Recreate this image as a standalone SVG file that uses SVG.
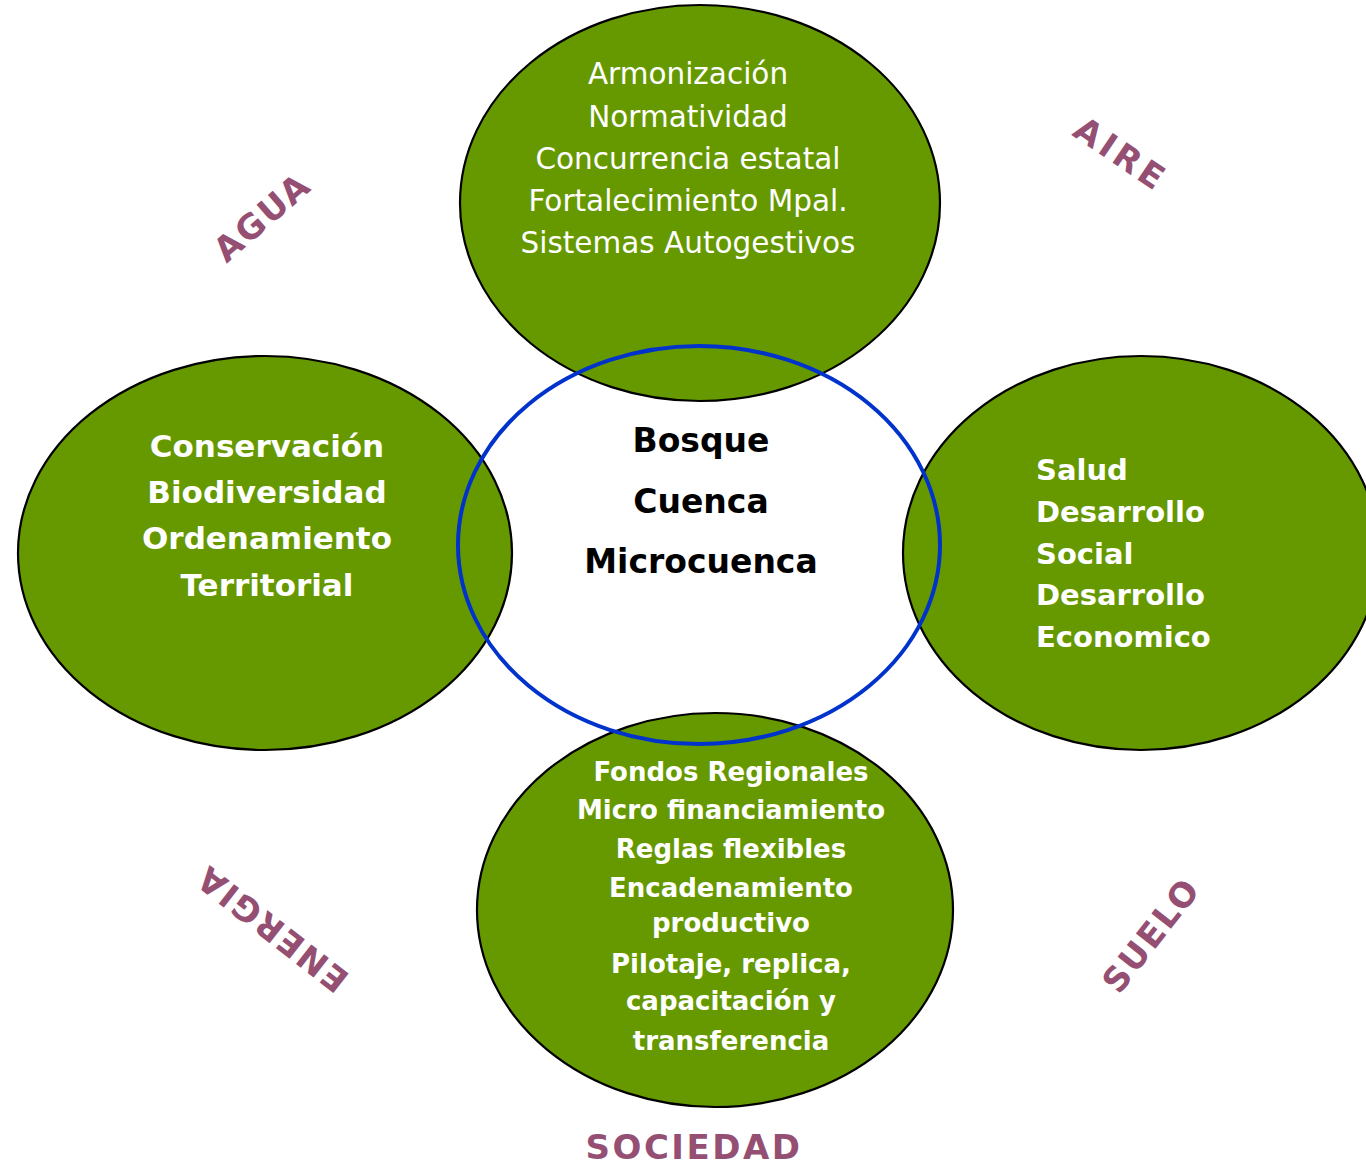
<svg xmlns="http://www.w3.org/2000/svg" width="1366" height="1169" viewBox="0 0 1366 1169">
<style>
.node{fill:#669900;stroke:#000;stroke-width:2.2}
.ring{fill:none;stroke:#0033cc;stroke-width:4}
text{font-family:"DejaVu Sans",Verdana,sans-serif}
.w{fill:#fff}
.wb{fill:#fff;font-weight:bold}
.kb{fill:#000;font-weight:bold}
.lab{fill:#944f73;font-weight:bold;font-size:34px}
</style>
<rect width="1366" height="1169" fill="#fff"/>
<g id="node-top">
<ellipse class="node" cx="700" cy="203" rx="240" ry="198"/>
<g class="w" font-size="29.5" text-anchor="middle">
<text x="688" y="84">Armonización</text>
<text x="688" y="127">Normatividad</text>
<text x="688" y="169">Concurrencia estatal</text>
<text x="688" y="211">Fortalecimiento Mpal.</text>
<text x="688" y="253">Sistemas Autogestivos</text>
</g>
</g>
<g id="node-left">
<ellipse class="node" cx="265" cy="553" rx="247" ry="197"/>
<g class="wb" font-size="31" text-anchor="middle">
<text x="267" y="457">Conservación</text>
<text x="267" y="503">Biodiversidad</text>
<text x="267" y="549">Ordenamiento</text>
<text x="267" y="596">Territorial</text>
</g>
</g>
<g id="node-right">
<ellipse class="node" cx="1141" cy="553" rx="238" ry="197"/>
<g class="wb" font-size="29">
<text x="1036" y="480">Salud</text>
<text x="1036" y="522">Desarrollo</text>
<text x="1036" y="564">Social</text>
<text x="1036" y="605">Desarrollo</text>
<text x="1036" y="647">Economico</text>
</g>
</g>
<g id="node-bottom">
<ellipse class="node" cx="715" cy="910" rx="238" ry="197"/>
<g class="wb" font-size="26" text-anchor="middle">
<text x="731" y="781">Fondos Regionales</text>
<text x="731" y="819">Micro financiamiento</text>
<text x="731" y="858">Reglas flexibles</text>
<text x="731" y="897">Encadenamiento</text>
<text x="731" y="932">productivo</text>
<text x="731" y="973">Pilotaje, replica,</text>
<text x="731" y="1010">capacitación y</text>
<text x="731" y="1050">transferencia</text>
</g>
</g>
<g id="node-center">
<ellipse class="ring" cx="699" cy="545" rx="241" ry="199"/>
<g class="kb" font-size="33" text-anchor="middle">
<text x="701" y="452">Bosque</text>
<text x="701" y="513">Cuenca</text>
<text x="701" y="573">Microcuenca</text>
</g>
</g>
<g id="labels" text-anchor="middle">
<text class="lab" transform="translate(262,217) rotate(-41)" y="12" letter-spacing="2">AGUA</text>
<text class="lab" transform="translate(1121,154) rotate(34)" y="12" letter-spacing="4">AIRE</text>
<text class="lab" transform="translate(272,929) rotate(-142)" y="12" letter-spacing="2">ENERGIA</text>
<text class="lab" transform="translate(1151,935) rotate(-52)" y="12" letter-spacing="2">SUELO</text>
<text class="lab" x="694" y="1159" font-size="35" letter-spacing="2.5">SOCIEDAD</text>
</g>
<g id="connectors"/>
</svg>
